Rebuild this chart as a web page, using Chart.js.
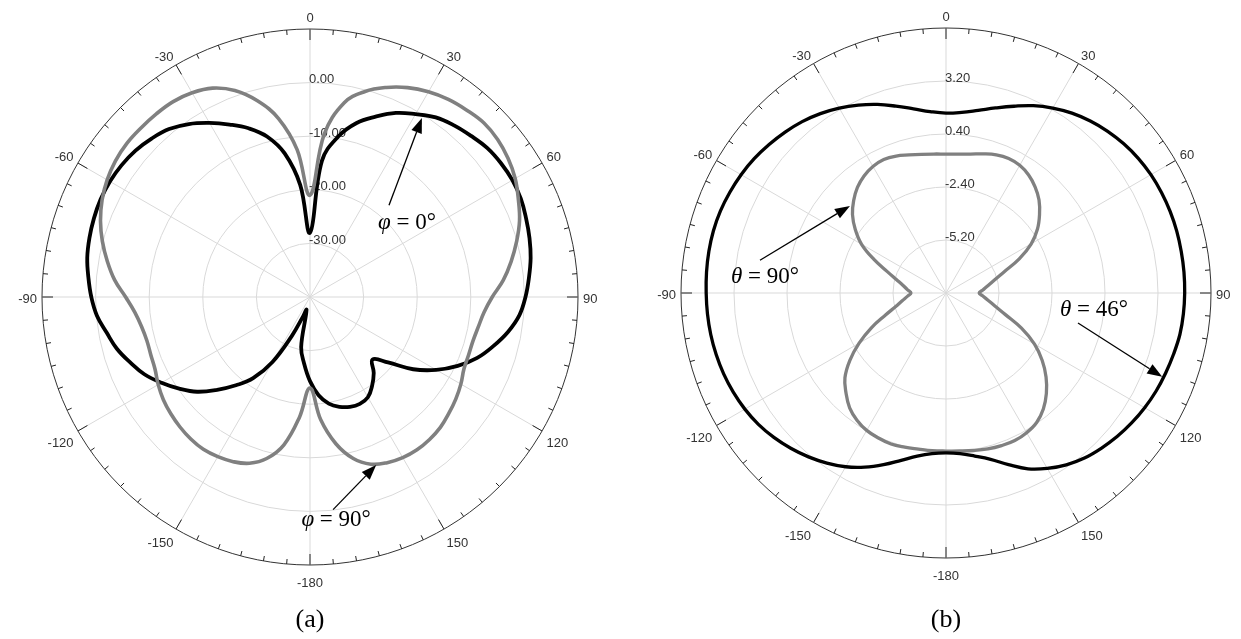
<!DOCTYPE html>
<html>
<head>
<meta charset="utf-8">
<script src="https://cdn.jsdelivr.net/npm/chart.js@4.4.1/dist/chart.umd.min.js"></script>
<style>
  html, body { margin: 0; padding: 0; background: #fff; }
  #wrap { position: relative; width: 1241px; height: 639px; overflow: hidden; }
  .box { position: absolute; top: 0; height: 639px; }
  .cap { position: absolute; top: 604px; width: 80px; margin-left: -40px; text-align: center;
         font: 26px "Liberation Serif", "Times New Roman", serif; color: #000; }
</style>
</head>
<body>
<div id="wrap">
  <div class="box" style="left:0;width:620px"><canvas id="chartA"></canvas></div>
  <div class="box" style="left:620px;width:621px"><canvas id="chartB"></canvas></div>
  <div class="cap" style="left:310px">(a)</div>
  <div class="cap" style="left:946px">(b)</div>
</div>
<script>
// angle categories, every 5 deg clockwise from the top (0..355, 355 = -5)
const angles = []
for (let a = 0; a < 360; a += 5) angles.push(a)

const angleTickLabels = ['0', '30', '60', '90', '120', '150', '-180', '-150', '-120', '-90', '-60', '-30']

// (a) gain in dB, order: 0..180 then -175..-5
const phi0 = [
  -28, -14.5, -9.6, -6.4, -4.2, -2.1, -0.6, 0.9, 1.8, 2.5,
  3.2, 3.5, 3.6, 3.4, 2.9, 2.4, 1.8, 1.0, 0.2, -0.8,
  -2.5, -4.6, -6.8, -9.6, -12.8, -16.5, -21, -23.5, -21.5, -19.8,
  -18.4, -18, -18.2, -18.8, -19.8, -21.6, -24.3,
  -27.5, -30.5, -37.5, -36, -32, -26, -21.5, -18.5, -15.5, -12.5,
  -10.2, -8, -5.9, -4.3, -2.7, -1.5, -0.1, 0.8, 1.5, 2.2,
  2.6, 2.9, 3.1, 3.1, 2.9, 2.5, 1.8, 0.9, -0.6, -2.5,
  -4.5, -6.5, -9, -12.8, -19
]
const phi90 = [
  -21, -9.5, -3.2, -0.3, 1.6, 3.1, 4.2, 5.0, 5.5, 5.9,
  5.7, 5.1, 4.2, 2.9, 1.6, -0.1, -1.9, -3.8, -6, -7.4,
  -8.1, -8.5, -8.5, -8.3, -7.5, -6.8, -6.2, -5.6, -5.3, -5.2,
  -5.4, -5.9, -6.8, -8.8, -12.2, -17, -23,
  -17.5, -12, -8.8, -7, -6.1, -5.6, -5.3, -5.4, -5.7, -6.1,
  -6.6, -7.3, -8.1, -8.4, -8.5, -8.1, -7.2, -5.6, -3.4, -1.6,
  0.1, 1.6, 2.8, 3.7, 4.3, 4.6, 4.6, 4.6, 4.5, 4.0,
  3.0, 1.0, -2.1, -6.2, -12.4
]

// (b) gain in dB, same order
const theta46 = [
  1.5, 1.58, 1.8, 2.12, 2.5, 2.92, 3.28, 3.6, 3.86, 4.08,
  4.26, 4.4, 4.5, 4.56, 4.6, 4.62, 4.62, 4.62, 4.61, 4.59,
  4.55, 4.45, 4.35, 4.25, 4.12, 3.97, 3.8, 3.6, 3.38, 3.08,
  2.7, 2.25, 1.65, 1.1, 0.75, 0.52, 0.45,
  0.52, 0.75, 1.15, 1.65, 2.15, 2.6, 2.97, 3.3, 3.6, 3.87,
  4.1, 4.27, 4.4, 4.5, 4.57, 4.62, 4.65, 4.67, 4.7, 4.72,
  4.72, 4.68, 4.6, 4.5, 4.37, 4.2, 4.02, 3.82, 3.57, 3.28,
  2.95, 2.6, 2.22, 1.88, 1.62
]
const theta90 = [
  -0.66, -0.63, -0.55, -0.39, -0.23, -0.16, -0.21, -0.39, -0.68, -1.05,
  -1.55, -2.1, -2.8, -3.73, -4.74, -5.35, -5.74, -6.03, -6.25, -6.03,
  -5.73, -5.31, -4.66, -3.6, -2.6, -1.8, -1.1, -0.5, 0.0, 0.35,
  0.52, 0.6, 0.58, 0.53, 0.45, 0.38, 0.35,
  0.36, 0.37, 0.43, 0.49, 0.45, 0.38, 0.2, -0.08, -0.53, -1.03,
  -1.8, -2.7, -3.65, -4.6, -5.25, -5.65, -5.95, -6.15, -5.95, -5.7,
  -5.3, -4.7, -3.8, -2.85, -2.15, -1.55, -1.1, -0.72, -0.45, -0.28,
  -0.22, -0.3, -0.45, -0.56, -0.63
]

const radialTicksA = [-40, -30, -20, -10, 0, 10]
const radialTicksB = [-8, -5.2, -2.4, 0.4, 3.2, 6]

function pos(s, deg, value) {
  const a = deg * Math.PI / 180
  const d = s.getDistanceFromCenterForValue(value)
  return { x: s.xCenter + Math.sin(a) * d, y: s.yCenter - Math.cos(a) * d }
}

function drawArrow(ctx, x1, y1, x2, y2) {
  const ang = Math.atan2(y2 - y1, x2 - x1)
  const head = 15, hw = 5.5
  const bx = x2 - head * Math.cos(ang), by = y2 - head * Math.sin(ang)
  ctx.beginPath(); ctx.moveTo(x1, y1); ctx.lineTo(bx, by); ctx.stroke()
  ctx.beginPath()
  ctx.moveTo(x2, y2)
  ctx.lineTo(bx + hw * Math.sin(ang), by - hw * Math.cos(ang))
  ctx.lineTo(bx - hw * Math.sin(ang), by + hw * Math.cos(ang))
  ctx.closePath(); ctx.fill()
}

const polarDeco = {
  id: 'polarDeco',
  beforeDatasetsDraw(chart) {
    const s = chart.scales.r
    const ctx = chart.ctx
    const R = s.drawingArea
    const n = chart.data.labels.length
    ctx.save()
    // ticks on the outer ring
    ctx.strokeStyle = '#222'
    ctx.lineWidth = 1
    for (let i = 0; i < n; i++) {
      const len = i % 6 === 0 ? 11 : 5
      const p1 = s.getPointPosition(i, R)
      const p2 = s.getPointPosition(i, R - len)
      ctx.beginPath(); ctx.moveTo(p1.x, p1.y); ctx.lineTo(p2.x, p2.y); ctx.stroke()
    }
    // angle labels
    ctx.font = '13px "Liberation Sans", Arial, sans-serif'
    ctx.fillStyle = '#333'
    ctx.textBaseline = 'middle'
    angleTickLabels.forEach((lab, k) => {
      const a = s.getIndexAngle(k * 6)
      const sn = Math.sin(a), cs = Math.cos(a)
      let x, y
      if (Math.abs(sn) < 0.1) {
        ctx.textAlign = 'center'
        x = s.xCenter
        y = cs > 0 ? s.yCenter - R - 11 : s.yCenter + R + 18
      } else {
        ctx.textAlign = sn > 0 ? 'left' : 'right'
        x = s.xCenter + sn * (R + 5)
        y = s.yCenter - cs * (R + 5)
        if (cs > 0.1) y -= 3
        else if (cs < -0.1) y += 10
        else y += 2
      }
      ctx.fillText(lab, x, y)
    })
    // radial value labels
    ctx.textAlign = 'left'
    const t = s.ticks
    for (let i = 1; i < t.length - 1; i++) {
      const d = s.getDistanceFromCenterForValue(t[i].value)
      ctx.fillText(t[i].value.toFixed(2), s.xCenter - 1, s.yCenter - d - 3)
    }
    ctx.restore()
  },
  afterDraw(chart, args, opts) {
    const s = chart.scales.r
    const ctx = chart.ctx
    ctx.save()
    ctx.strokeStyle = '#000'
    ctx.fillStyle = '#000'
    ctx.lineWidth = 1.3
    ;(opts.notes || []).forEach(nt => {
      const tip = pos(s, nt.tip[0], nt.tip[1])
      const tail = pos(s, nt.tail[0], nt.tail[1])
      drawArrow(ctx, tail.x, tail.y, tip.x, tip.y)
      const cx = tail.x + nt.off[0], cy = tail.y + nt.off[1]
      ctx.textBaseline = 'middle'
      ctx.textAlign = 'left'
      ctx.font = 'italic 23px "Liberation Serif", serif'
      const w1 = ctx.measureText(nt.sym).width
      ctx.font = '23px "Liberation Serif", serif'
      const w2 = ctx.measureText(nt.rest).width
      const x0 = cx - (w1 + w2) / 2
      ctx.font = 'italic 23px "Liberation Serif", serif'
      ctx.fillText(nt.sym, x0, cy)
      ctx.font = '23px "Liberation Serif", serif'
      ctx.fillText(nt.rest, x0 + w1, cy)
    })
    ctx.restore()
  }
}

function makeChart(id, datasets, tickVals, padding, notes) {
  const min = tickVals[0], max = tickVals[tickVals.length - 1]
  return new Chart(document.getElementById(id), {
    type: 'radar',
    data: { labels: angles.map(String), datasets },
    plugins: [polarDeco],
    options: {
      responsive: true,
      maintainAspectRatio: false,
      animation: false,
      layout: { padding },
      plugins: {
        legend: { display: false },
        tooltip: { enabled: false },
        polarDeco: { notes }
      },
      elements: {
        point: { radius: 0, hoverRadius: 0 },
        line: { tension: 0.4, fill: false, borderJoinStyle: 'round' }
      },
      scales: {
        r: {
          min, max,
          startAngle: 0,
          afterBuildTicks: sc => { sc.ticks = tickVals.map(v => ({ value: v })) },
          ticks: { display: false },
          pointLabels: { display: false },
          grid: {
            circular: true,
            lineWidth: 1,
            color: c => (c.tick && c.tick.value === max) ? '#333' : '#d9d9d9'
          },
          angleLines: {
            lineWidth: 1,
            color: c => c.index % 6 === 0 ? '#d9d9d9' : 'rgba(0,0,0,0)'
          }
        }
      }
    }
  })
}

makeChart('chartA', [
  { label: 'φ = 90°', data: phi90, borderColor: '#808080', borderWidth: 3.6 },
  { label: 'φ = 0°', data: phi0, borderColor: '#000', borderWidth: 3.8 }
], radialTicksA, { left: 42, right: 42, top: 29, bottom: 74 }, [
  { sym: 'φ', rest: ' = 0°', tip: [32, -0.6], tail: [40.7, -17.4], off: [18, 18] },
  { sym: 'φ', rest: ' = 90°', tip: [158.5, -6.3], tail: [173.8, -0.1], off: [3, 10] }
])

makeChart('chartB', [
  { label: 'θ = 46°', data: theta46, borderColor: '#000', borderWidth: 3.3 },
  { label: 'θ = 90°', data: theta90, borderColor: '#808080', borderWidth: 3.3 }
], radialTicksB, { left: 61, right: 30, top: 28, bottom: 81 }, [
  { sym: 'θ', rest: ' = 90°', tip: [-47.8, -1.15], tail: [-80, 1.98], off: [5, 17] },
  { sym: 'θ', rest: ' = 46°', tip: [111.2, 4.25], tail: [102.8, -0.85], off: [16, -13] }
])
</script>
</body>
</html>
